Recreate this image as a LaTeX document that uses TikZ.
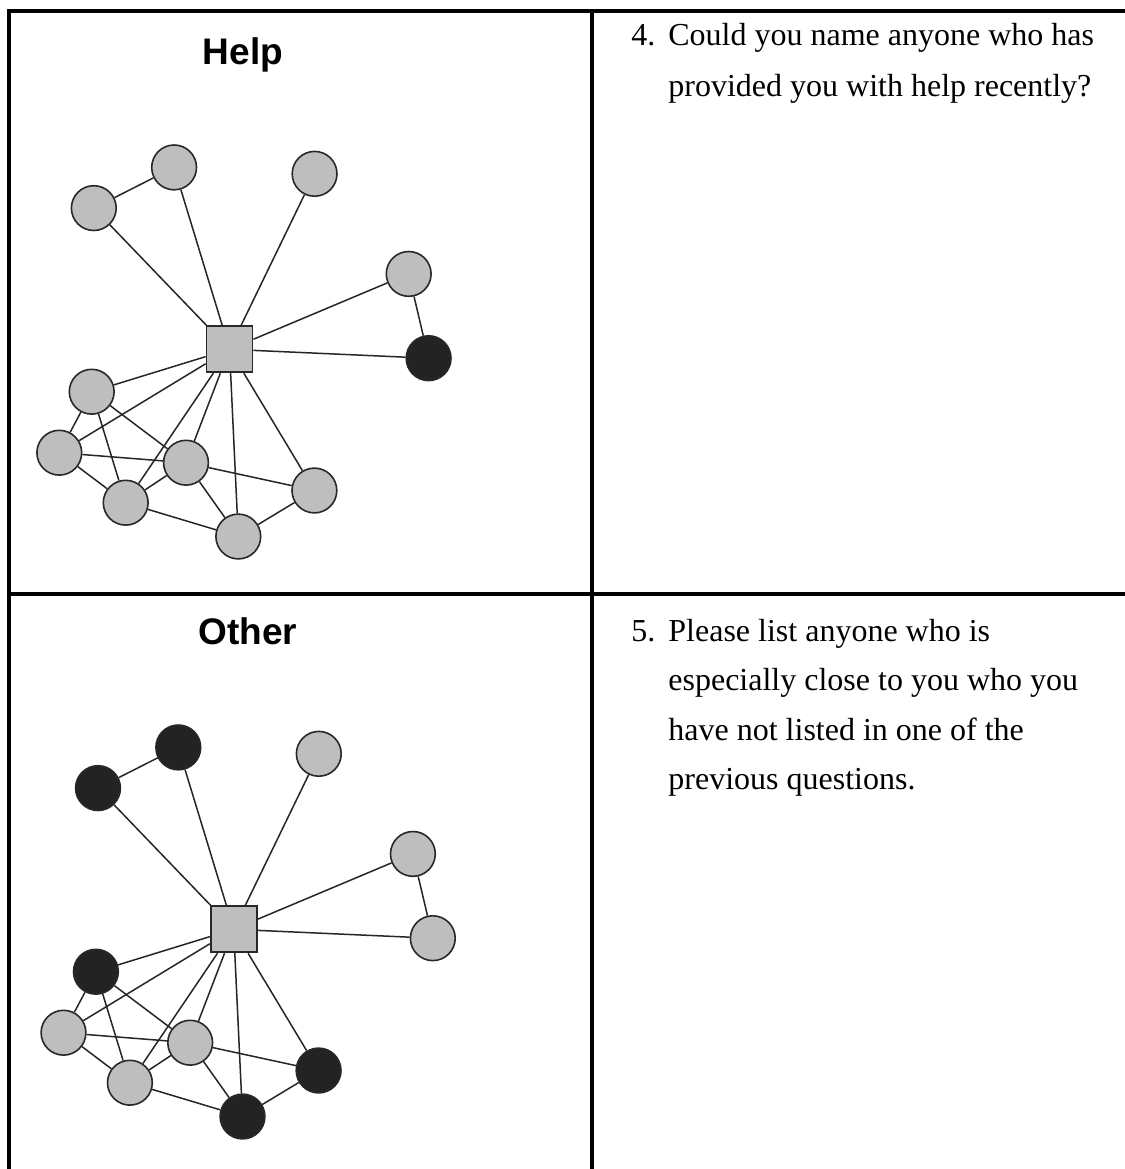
\documentclass[tikz,border=0pt]{standalone}
\usepackage{fontspec}
\setmainfont{Liberation Serif}
\newfontfamily\headfont{Liberation Sans}
\definecolor{altgray}{RGB}{190,190,190}
\definecolor{altdark}{RGB}{35,35,35}
\definecolor{rimcol}{RGB}{40,40,40}
\begin{document}
\begin{tikzpicture}[x=0.5pt,y=-0.5pt,
  alter/.style={circle,draw=rimcol,line width=0.8pt,fill=altgray,minimum size=22.4pt,inner sep=0pt},
  named/.style={alter,fill=altdark},
  ego/.style={rectangle,draw=rimcol,line width=0.9pt,fill=altgray,minimum size=23pt,inner sep=0pt},
  tie/.style={draw=black!85,line width=0.75pt},
  rule/.style={line width=2pt,line join=miter},
  heading/.style={anchor=base,inner sep=0pt,font=\headfont\bfseries\fontsize{18.5pt}{20pt}\selectfont},
  qtext/.style={anchor=base west,inner sep=0pt,font=\fontsize{16pt}{23.5pt}\selectfont}]
\useasboundingbox (0,0) rectangle (1125,1169);
\fill[white] (0,0) rectangle (1125,1169);

% table rules
\draw[rule] (8.7,1169) -- (8.7,11.3) -- (1125,11.3);
\draw[rule] (592,9.3) -- (592,1169);
\draw[rule] (6.7,594) -- (1125,594);

% row 1: help network
\node[heading] (th) at (243,64) {Help};
\begin{scope}
  \node[ego]   (hsq) at (229.5,349.3) {};
  \node[alter] (hA) at (93.8,208.1) {};
  \node[alter] (hB) at (174.1,167.4) {};
  \node[alter] (hC) at (314.6,173.8) {};
  \node[alter] (hD) at (408.7,273.9) {};
  \node[named] (hE) at (428.6,358.2) {};
  \node[alter] (hF) at (91.7,391.7) {};
  \node[alter] (hG) at (59.3,452.7) {};
  \node[alter] (hH) at (186,462.7) {};
  \node[alter] (hI) at (125.7,502.7) {};
  \node[alter] (hJ) at (314.4,490.5) {};
  \node[alter] (hK) at (238.3,536.5) {};
\end{scope}

% row 2: other network
\node[heading] (to) at (248,644) {Other};
\begin{scope}[shift={(4.2,580)}]
  \node[ego]   (osq) at (229.5,349.3) {};
  \node[named] (oA) at (93.8,208.1) {};
  \node[named] (oB) at (174.1,167.4) {};
  \node[alter] (oC) at (314.6,173.8) {};
  \node[alter] (oD) at (408.7,273.9) {};
  \node[alter] (oE) at (428.6,358.2) {};
  \node[named] (oF) at (91.7,391.7) {};
  \node[alter] (oG) at (59.3,452.7) {};
  \node[alter] (oH) at (186,462.7) {};
  \node[alter] (oI) at (125.7,502.7) {};
  \node[named] (oJ) at (314.4,490.5) {};
  \node[named] (oK) at (238.3,536.5) {};
\end{scope}

% ties, same structure in both networks
\foreach \p in {h,o}
  \foreach \a/\b in {sq/A,sq/B,sq/C,sq/D,sq/E,sq/F,sq/G,sq/H,sq/I,sq/J,sq/K,
                     A/B,D/E,F/G,F/I,F/H,G/H,G/I,H/I,H/J,H/K,I/K,J/K}
    \draw[tie] (\p\a) -- (\p\b);

% questions
\node[qtext] (q4n) at (631,45.5) {4.};
\node[qtext] (q4a) at (668,45.5) {Could you name anyone who has};
\node[qtext] (q4b) at (668,96.5) {provided you with help recently?};

\node[qtext] (q5n) at (631,641) {5.};
\node[qtext] (q5a) at (668,641) {Please list anyone who is};
\node[qtext] (q5b) at (668,690.5) {especially close to you who you};
\node[qtext] (q5c) at (668,740) {have not listed in one of the};
\node[qtext] (q5d) at (668,789.5) {previous questions.};
\end{tikzpicture}
\end{document}
